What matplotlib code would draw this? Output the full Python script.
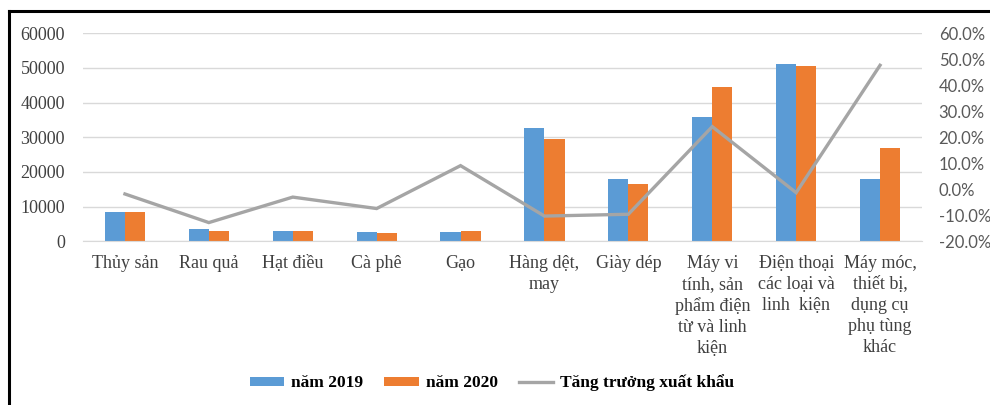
import numpy as np
import matplotlib.pyplot as plt
from matplotlib.lines import Line2D
from matplotlib.ticker import FuncFormatter

categories = ['Thủy sản', 'Rau quả', 'Hạt điều', 'Cà phê', 'Gạo',
              'Hàng dệt,\nmay', 'Giày dép',
              'Máy vi\ntính, sản\nphẩm điện\ntừ và linh\nkiện',
              'Điện thoại\ncác loại và\nlinh  kiện',
              'Máy móc,\nthiết bị,\ndụng cụ\nphụ tùng\nkhác']
y2019 = [8550, 3550, 3100, 2800, 2800, 32800, 18100, 35800, 51250, 18100]
y2020 = [8350, 3050, 3100, 2500, 3100, 29400, 16400, 44600, 50600, 27000]
growth = [-1.8, -12.8, -3.0, -7.4, 9.1, -10.3, -9.6, 24.1, -1.3, 47.7]

serif = 'Liberation Serif'
txt = '#404040'

fig = plt.figure(figsize=(9.9, 4.05), dpi=100)
ax = fig.add_axes([83/990, 1-241.3/405, 839/990, 208/405])
ax2 = ax.twinx()

x = np.arange(len(categories))
w = 0.24
b1 = ax.bar(x - w/2, y2019, w, color='#5b9bd5', label='năm 2019', zorder=2)
b2 = ax.bar(x + w/2, y2020, w, color='#ed7d31', label='năm 2020', zorder=2)
ln, = ax2.plot(x, growth, color='#a5a5a5', lw=2.4, label='Tăng trưởng xuất khẩu',
               solid_joinstyle='miter')

ax.set_xlim(-0.5, len(categories) - 0.5)
ax.set_ylim(0, 60000)
ax.set_yticks(range(0, 60001, 10000))
ax2.set_ylim(-20, 60)
ax2.set_yticks(range(-20, 61, 10))
ax2.yaxis.set_major_formatter(FuncFormatter(lambda v, p: f'{v:.1f}%'))

ax.grid(axis='y', color='#d9d9d9', lw=1, zorder=0)
ax.set_axisbelow(True)
for a in (ax, ax2):
    for s in a.spines.values():
        s.set_visible(False)
    a.tick_params(length=0)
ax.spines['bottom'].set_visible(True)
ax.spines['bottom'].set_color('#d9d9d9')

ax.set_xticks(x)
ax.set_xticklabels(categories, fontfamily=serif, fontsize=13, color=txt,
                   linespacing=1.3, va='top')
ax.tick_params(axis='x', pad=10)
for lab in ax.get_yticklabels():
    lab.set_fontfamily(serif)
    lab.set_fontsize(13)
    lab.set_color(txt)
ax.tick_params(axis='y', pad=13)
for lab in ax2.get_yticklabels():
    lab.set_fontfamily('Lato')
    lab.set_fontsize(12)
    lab.set_color('#595959')
ax2.tick_params(axis='y', pad=12)

fig.legend(handles=[b1, b2, ln], loc='center', bbox_to_anchor=(492/990, 1-383/405),
           ncol=3, frameon=False, prop={'family': serif, 'weight': 'bold', 'size': 12.5},
           handlelength=2.0, handleheight=0.45, handletextpad=0.4, columnspacing=1.2)

# frame around the picture
fig.add_artist(Line2D([9/990, 9/990], [0, 1-11/405], color='black', lw=2.2,
                      transform=fig.transFigure))
fig.add_artist(Line2D([9/990, 1], [1-11/405, 1-11/405], color='black', lw=2.2,
                      transform=fig.transFigure))

fig.savefig('out.png', dpi=100)
